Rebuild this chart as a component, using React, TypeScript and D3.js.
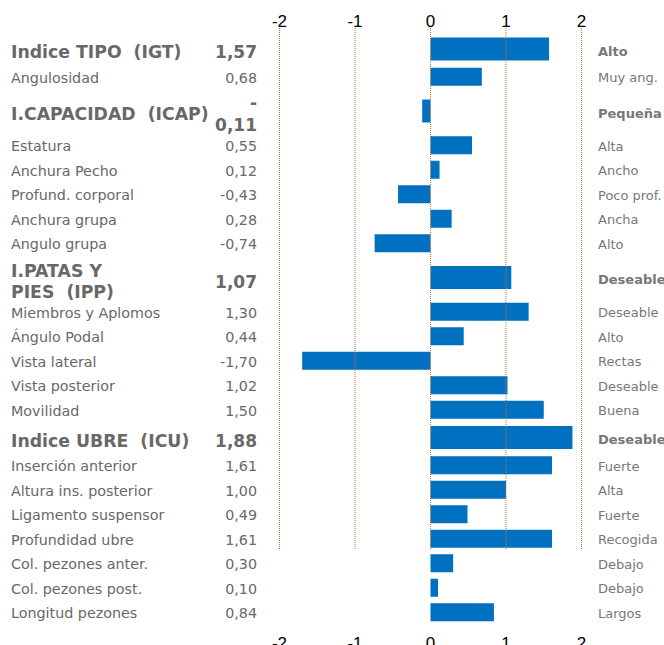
import * as d3 from "d3";

// rows, top to bottom
const labels = [
  "Indice TIPO  (IGT)", "Angulosidad", "I.CAPACIDAD  (ICAP)", "Estatura", "Anchura Pecho",
  "Profund. corporal", "Anchura grupa", "Angulo grupa", "I.PATAS Y|PIES  (IPP)",
  "Miembros y Aplomos", "Ángulo Podal", "Vista lateral", "Vista posterior", "Movilidad",
  "Indice UBRE  (ICU)", "Inserción anterior", "Altura ins. posterior", "Ligamento suspensor",
  "Profundidad ubre", "Col. pezones anter.", "Col. pezones post.", "Longitud pezones",
];
const values = [
  1.57, 0.68, -0.11, 0.55, 0.12, -0.43, 0.28, -0.74, 1.07, 1.3, 0.44, -1.7, 1.02, 1.5,
  1.88, 1.61, 1.0, 0.49, 1.61, 0.3, 0.1, 0.84,
];
const rightLabels = [
  "Alto", "Muy ang.", "Pequeña", "Alta", "Ancho", "Poco prof.", "Ancha", "Alto", "Deseable",
  "Deseable", "Alto", "Rectas", "Deseable", "Buena", "Deseable", "Fuerte", "Alta", "Fuerte",
  "Recogida", "Debajo", "Debajo", "Largos",
];
// "h" = index header, "h2" = header that wraps to two lines, "r" = regular trait
const kinds = [
  "h", "r", "h2", "r", "r", "r", "r", "r", "h2", "r", "r", "r", "r", "r",
  "h", "r", "r", "r", "r", "r", "r", "r",
];
const ticks = [-2, -1, 0, 1, 2];
const gridRows = 19; // grid lines stop after "Profundidad ubre"

const W = 664;
const H = 645;
const rowH: Record<string, number> = { h: 31, h2: 44, r: 24.5 };
const top0 = 33.5;
const fmt = (v: number) => v.toFixed(2).replace(".", ",");
// keep the double spaces visible in svg text
const keepSpaces = (s: string) => s.replace(/  /g, " \u00a0");

export default function App() {
  const x = d3.scaleLinear().domain([-2, 2]).range([279.5, 581.5]);

  const tops: number[] = [];
  let acc = top0;
  kinds.forEach((k) => {
    tops.push(acc);
    acc += rowH[k];
  });
  const gridBottom = tops[gridRows - 1] + rowH[kinds[gridRows - 1]] - 2;

  const font = "DejaVu Sans, Verdana, sans-serif";
  const tickFont = "Liberation Sans Narrow, Liberation Sans, Arial, sans-serif";

  return (
    <svg
      width={W}
      height={H}
      style={{ position: "absolute", left: 0, top: 0, background: "#fff" }}
    >
      {/* bars */}
      {values.map((v, i) => {
        const head = kinds[i] !== "r";
        const bh = head ? 23 : 18;
        const cy = tops[i] + rowH[kinds[i]] / 2;
        return (
          <rect
            key={i}
            x={x(Math.min(0, v))}
            y={cy - bh / 2}
            width={Math.abs(x(v) - x(0))}
            height={bh}
            fill="#0070C0"
          />
        );
      })}

      {/* dotted grid lines over bars */}
      {ticks.map((t) => (
        <line
          key={t}
          x1={x(t)}
          x2={x(t)}
          y1={28}
          y2={gridBottom}
          stroke="#b8743e"
          strokeWidth={1}
          strokeDasharray="1,1"
        />
      ))}

      {/* tick labels top and bottom */}
      {ticks.map((t) => (
        <g key={"t" + t} fontFamily={tickFont} fontSize={17} fill="#000" textAnchor="middle">
          <text x={x(t)} y={27}>{t}</text>
          <text x={x(t)} y={649}>{t}</text>
        </g>
      ))}

      {/* left labels, values, right labels */}
      {labels.map((lab, i) => {
        const k = kinds[i];
        const cy = tops[i] + rowH[k] / 2;
        const head = k !== "r";
        const color = "#686868";
        const lines = keepSpaces(lab).split("|");
        const valStr = fmt(values[i]);
        return (
          <g key={"l" + i} fontFamily={font} fill={color}>
            {lines.length === 1 ? (
              <text
                x={11}
                y={cy + (head ? 3 : 1)}
                dominantBaseline="central"
                fontSize={head ? 17.3 : 14.3}
                fontWeight={head ? "bold" : "normal"}
              >
                {lines[0]}
              </text>
            ) : (
              lines.map((ln, j) => (
                <text
                  key={j}
                  x={11}
                  y={cy - 7 + j * 21.5}
                  dominantBaseline="central"
                  fontSize={17.3}
                  fontWeight="bold"
                >
                  {ln}
                </text>
              ))
            )}
            {head && values[i] < 0 ? (
              <>
                <text x={257} y={cy - 8} dominantBaseline="central" textAnchor="end" fontSize={17} fontWeight="bold">-</text>
                <text x={257} y={cy + 14} dominantBaseline="central" textAnchor="end" fontSize={17} fontWeight="bold">
                  {valStr.slice(1)}
                </text>
              </>
            ) : (
              <text
                x={257}
                y={cy + (head ? (k === "h2" ? 4.5 : 3) : 1)}
                dominantBaseline="central"
                textAnchor="end"
                fontSize={head ? 17 : 14.3}
                fontWeight={head ? "bold" : "normal"}
              >
                {valStr}
              </text>
            )}
            <text
              x={598}
              y={cy + (head ? 2 : 1)}
              dominantBaseline="central"
              fontSize={13}
              fontWeight={head ? "bold" : "normal"}
              fill="#777"
            >
              {rightLabels[i]}
            </text>
          </g>
        );
      })}
    </svg>
  );
}
